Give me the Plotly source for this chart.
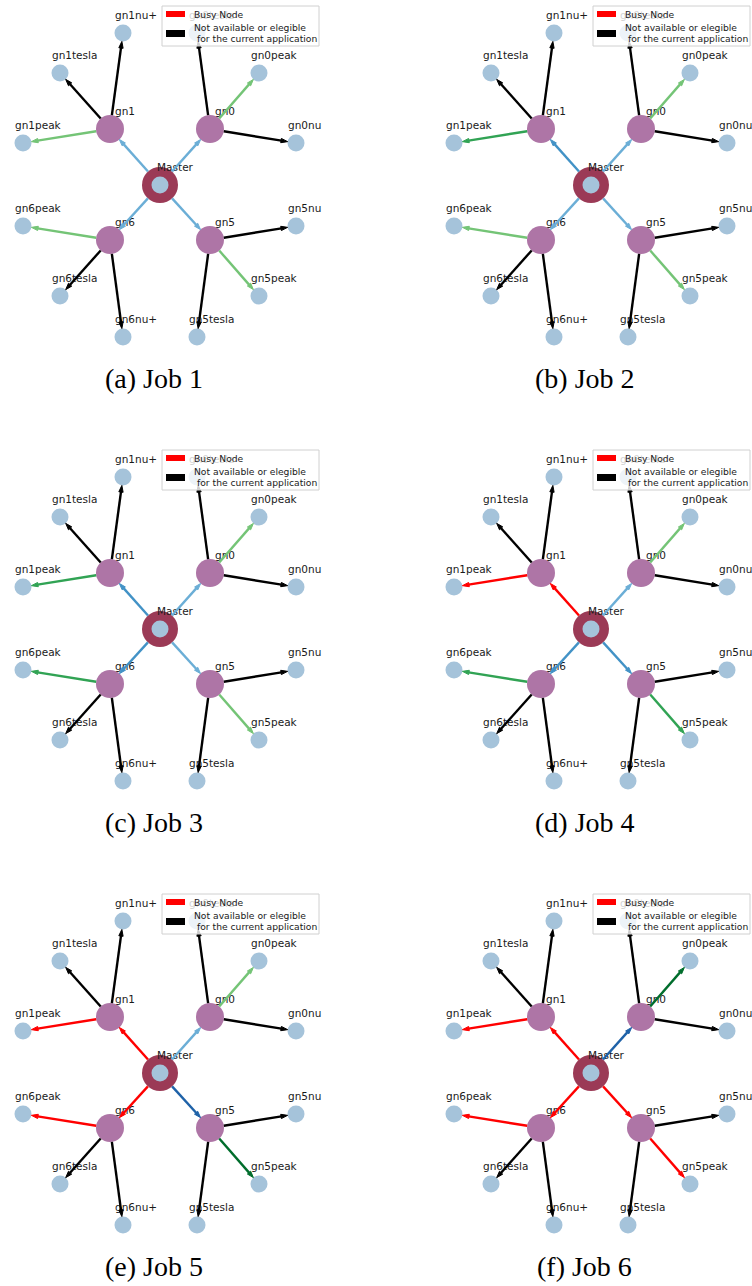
import math
import plotly.graph_objects as go

FIG_W, FIG_H = 752, 1286

captions = ["(a) Job 1", "(b) Job 2", "(c) Job 3", "(d) Job 4", "(e) Job 5", "(f) Job 6"]

# GPU servers attached to the Master (graph layout, Master at origin, y up)
servers = ["gn0", "gn1", "gn5", "gn6"]
server_x = [50, -50, 50, -50]
server_y = [56, 56, -55, -55]

# devices hosted by each server
devices = ["gn0tesla", "gn0peak", "gn0nu", "gn1nu+", "gn1tesla", "gn1peak",
           "gn5nu", "gn5peak", "gn5tesla", "gn6peak", "gn6tesla", "gn6nu+"]
device_server = ["gn0", "gn0", "gn0", "gn1", "gn1", "gn1",
                 "gn5", "gn5", "gn5", "gn6", "gn6", "gn6"]
device_x = [37, 99, 136, -37, -100, -137, 136, 99, 37, -137, -100, -37]
device_y = [152, 112, 42, 152, 112, 42, -41, -111, -152, -41, -111, -152]

# devices eligible for the application
eligible = ["gn0peak", "gn1peak", "gn5peak", "gn6peak"]

# load level of each server (order of `servers`) per job; -1 marks a busy node
server_load = [
    [0, 0, 0, 0],
    [0, 1, 0, 0],
    [0, 1, 0, 1],
    [0, -1, 1, 1],
    [0, -1, 2, -1],
    [2, -1, -1, -1],
]

# styling
BLUES = ["#6baed6", "#4292c6", "#1f62a8"]
GREENS = ["#74c476", "#31a354", "#006d2c"]
BUSY = "#ff0000"
UNAVAILABLE = "#000000"
DEVICE_COLOR = "#a5c3da"
SERVER_COLOR = "#ae75a6"
MASTER_COLOR = "#9b3a56"
R_MASTER, R_SERVER, R_DEVICE = 18, 14, 8.5
LABEL_FONT = dict(family="DejaVu Sans", size=10.5, color="#1a1a1a")

panel_cx = [160, 591]           # Master position in each column (px)
panel_cy = [185, 629, 1073]     # Master position in each row (px)

fig = go.Figure()


def edge_trace(x0, y0, x1, y1, r0, r1, color, xa, ya):
    dx, dy = x1 - x0, y1 - y0
    d = math.hypot(dx, dy)
    sx, sy = x0 + dx / d * r0, y0 + dy / d * r0
    return go.Scatter(
        x=[sx, x1], y=[sy, y1], mode="lines+markers",
        line=dict(color=color, width=2.4),
        marker=dict(symbol="arrow", size=[0, 7], angleref="previous", opacity=1,
                    standoff=r1, color=color, line=dict(width=1, color=color)),
        xaxis=xa, yaxis=ya, hoverinfo="skip", cliponaxis=False,
    )


shapes, annotations = [], []
srv_pos = {s: (x, y) for s, x, y in zip(servers, server_x, server_y)}

for k, cap in enumerate(captions):
    row, col = divmod(k, 2)
    n = k + 1
    xa, ya = f"x{n}", f"y{n}"
    cx, cy = panel_cx[col], panel_cy[row]
    left, right = 376 * col, 376 * col + 376
    top, bottom = cy - 185, min(cy + 215, FIG_H)

    fig.layout[f"xaxis{n}"] = dict(domain=[left / FIG_W, right / FIG_W],
                                   range=[left - cx, right - cx], visible=False,
                                   anchor=ya, fixedrange=True)
    fig.layout[f"yaxis{n}"] = dict(domain=[1 - bottom / FIG_H, 1 - top / FIG_H],
                                   range=[cy - bottom, cy - top], visible=False,
                                   anchor=xa, fixedrange=True)

    loads = server_load[k]

    # nodes
    fig.add_trace(go.Scatter(x=device_x, y=device_y, mode="markers",
                             marker=dict(size=2 * R_DEVICE, color=DEVICE_COLOR, opacity=1,
                                         line=dict(width=0)),
                             xaxis=xa, yaxis=ya, hoverinfo="skip", cliponaxis=False))
    fig.add_trace(go.Scatter(x=server_x, y=server_y, mode="markers",
                             marker=dict(size=2 * R_SERVER, color=SERVER_COLOR, opacity=1,
                                         line=dict(width=0)),
                             xaxis=xa, yaxis=ya, hoverinfo="skip", cliponaxis=False))
    fig.add_trace(go.Scatter(x=[0, 0], y=[0, 0], mode="markers",
                             marker=dict(size=[2 * R_MASTER, 2 * R_DEVICE], opacity=1,
                                         color=[MASTER_COLOR, DEVICE_COLOR], line=dict(width=0)),
                             xaxis=xa, yaxis=ya, hoverinfo="skip", cliponaxis=False))

    # labels
    fig.add_trace(go.Scatter(x=[x - 8 for x in device_x], y=[y + 17 for y in device_y],
                             mode="text", text=devices, textposition="middle right",
                             textfont=LABEL_FONT, xaxis=xa, yaxis=ya,
                             hoverinfo="skip", cliponaxis=False))
    fig.add_trace(go.Scatter(x=[x + 15 for x in server_x] + [15],
                             y=[y + 17 for y in server_y] + [17],
                             mode="text", text=servers + ["Master"], textposition="middle center",
                             textfont=LABEL_FONT, xaxis=xa, yaxis=ya,
                             hoverinfo="skip", cliponaxis=False))

    # Master -> server edges
    for s, load in zip(servers, loads):
        sx, sy = srv_pos[s]
        color = BUSY if load < 0 else BLUES[load]
        fig.add_trace(edge_trace(0, 0, sx, sy, R_MASTER, R_SERVER, color, xa, ya))

    # server -> device edges
    for dname, s, dx, dy in zip(devices, device_server, device_x, device_y):
        sx, sy = srv_pos[s]
        if dname in eligible:
            load = loads[servers.index(s)]
            color = BUSY if load < 0 else GREENS[load]
        else:
            color = UNAVAILABLE
        fig.add_trace(edge_trace(sx, sy, dx, dy, R_SERVER, R_DEVICE, color, xa, ya))

    # legend box
    shapes.append(dict(type="rect", xref=xa, yref=ya, x0=2, x1=159, y0=139, y1=179,
                       fillcolor="rgba(255,255,255,0.8)", line=dict(color="#d0d0d0", width=1),
                       layer="above"))
    shapes.append(dict(type="rect", xref=xa, yref=ya, x0=6, x1=25, y0=168, y1=174,
                       fillcolor=BUSY, line=dict(width=0), layer="above"))
    shapes.append(dict(type="rect", xref=xa, yref=ya, x0=6, x1=25, y0=148, y1=155,
                       fillcolor=UNAVAILABLE, line=dict(width=0), layer="above"))
    legend_font = dict(family="DejaVu Sans", size=9.2, color="#1a1a1a")
    annotations.append(dict(text="Busy Node", x=32, y=171, xref=xa, yref=ya,
                            xanchor="left", yanchor="middle", showarrow=False, font=legend_font))
    annotations.append(dict(text="Not available or elegible", x=32, y=158, xref=xa, yref=ya,
                            xanchor="left", yanchor="middle", showarrow=False, font=legend_font))
    annotations.append(dict(text="for the current application", x=35, y=147, xref=xa, yref=ya,
                            xanchor="left", yanchor="middle", showarrow=False, font=legend_font))

    # caption
    annotations.append(dict(text=cap, x=-6.5, y=-193, xref=xa, yref=ya,
                            xanchor="center", yanchor="middle", showarrow=False,
                            font=dict(family="Liberation Serif", size=28, color="#000000")))

fig.update_layout(width=FIG_W, height=FIG_H, margin=dict(l=0, r=0, t=0, b=0),
                  paper_bgcolor="white", plot_bgcolor="white", showlegend=False,
                  shapes=shapes, annotations=annotations)

fig.write_html("out.html")
